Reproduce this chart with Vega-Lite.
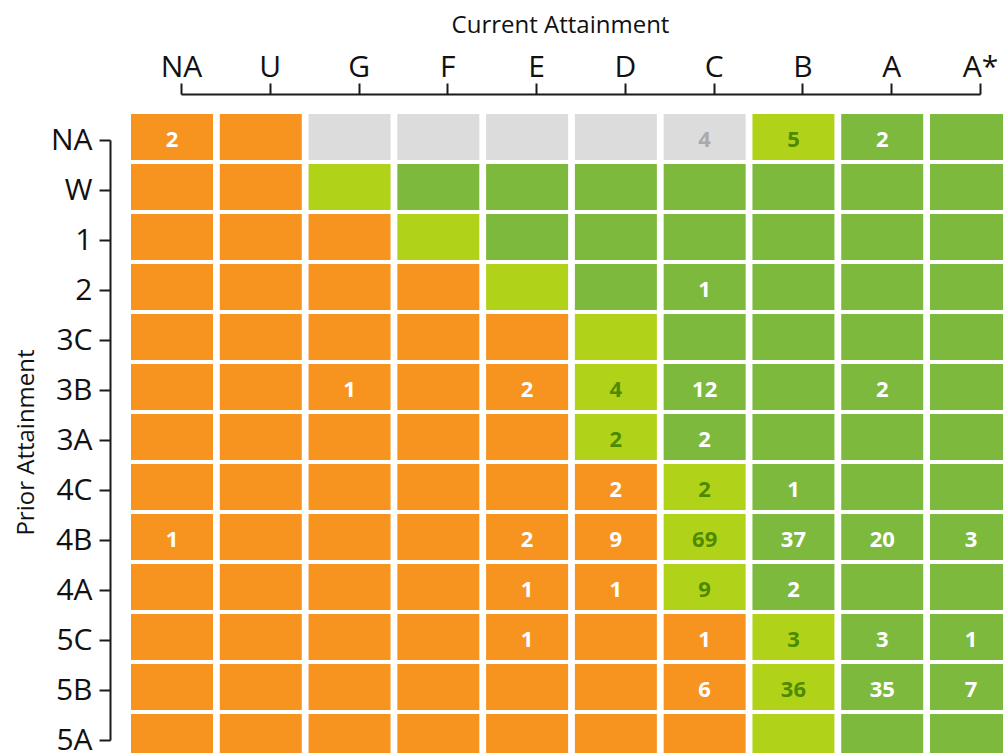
{
  "$schema": "https://vega.github.io/schema/vega-lite/v6.json",
  "autosize": "none",
  "padding": {"left": 181, "top": 140, "right": 23, "bottom": 13},
  "width": 799,
  "height": 600,
  "background": "white",
  "config": {"view": {"stroke": null}},
  "data": {"values": [
    {"r":"NA","c":"NA","b":"below","n":2},{"r":"NA","c":"U","b":"below"},{"r":"NA","c":"G","b":"none"},{"r":"NA","c":"F","b":"none"},{"r":"NA","c":"E","b":"none"},{"r":"NA","c":"D","b":"none"},{"r":"NA","c":"C","b":"none","n":4},{"r":"NA","c":"B","b":"on","n":5},{"r":"NA","c":"A","b":"above","n":2},{"r":"NA","c":"A*","b":"above"},
    {"r":"W","c":"NA","b":"below"},{"r":"W","c":"U","b":"below"},{"r":"W","c":"G","b":"on"},{"r":"W","c":"F","b":"above"},{"r":"W","c":"E","b":"above"},{"r":"W","c":"D","b":"above"},{"r":"W","c":"C","b":"above"},{"r":"W","c":"B","b":"above"},{"r":"W","c":"A","b":"above"},{"r":"W","c":"A*","b":"above"},
    {"r":"1","c":"NA","b":"below"},{"r":"1","c":"U","b":"below"},{"r":"1","c":"G","b":"below"},{"r":"1","c":"F","b":"on"},{"r":"1","c":"E","b":"above"},{"r":"1","c":"D","b":"above"},{"r":"1","c":"C","b":"above"},{"r":"1","c":"B","b":"above"},{"r":"1","c":"A","b":"above"},{"r":"1","c":"A*","b":"above"},
    {"r":"2","c":"NA","b":"below"},{"r":"2","c":"U","b":"below"},{"r":"2","c":"G","b":"below"},{"r":"2","c":"F","b":"below"},{"r":"2","c":"E","b":"on"},{"r":"2","c":"D","b":"above"},{"r":"2","c":"C","b":"above","n":1},{"r":"2","c":"B","b":"above"},{"r":"2","c":"A","b":"above"},{"r":"2","c":"A*","b":"above"},
    {"r":"3C","c":"NA","b":"below"},{"r":"3C","c":"U","b":"below"},{"r":"3C","c":"G","b":"below"},{"r":"3C","c":"F","b":"below"},{"r":"3C","c":"E","b":"below"},{"r":"3C","c":"D","b":"on"},{"r":"3C","c":"C","b":"above"},{"r":"3C","c":"B","b":"above"},{"r":"3C","c":"A","b":"above"},{"r":"3C","c":"A*","b":"above"},
    {"r":"3B","c":"NA","b":"below"},{"r":"3B","c":"U","b":"below"},{"r":"3B","c":"G","b":"below","n":1},{"r":"3B","c":"F","b":"below"},{"r":"3B","c":"E","b":"below","n":2},{"r":"3B","c":"D","b":"on","n":4},{"r":"3B","c":"C","b":"above","n":12},{"r":"3B","c":"B","b":"above"},{"r":"3B","c":"A","b":"above","n":2},{"r":"3B","c":"A*","b":"above"},
    {"r":"3A","c":"NA","b":"below"},{"r":"3A","c":"U","b":"below"},{"r":"3A","c":"G","b":"below"},{"r":"3A","c":"F","b":"below"},{"r":"3A","c":"E","b":"below"},{"r":"3A","c":"D","b":"on","n":2},{"r":"3A","c":"C","b":"above","n":2},{"r":"3A","c":"B","b":"above"},{"r":"3A","c":"A","b":"above"},{"r":"3A","c":"A*","b":"above"},
    {"r":"4C","c":"NA","b":"below"},{"r":"4C","c":"U","b":"below"},{"r":"4C","c":"G","b":"below"},{"r":"4C","c":"F","b":"below"},{"r":"4C","c":"E","b":"below"},{"r":"4C","c":"D","b":"below","n":2},{"r":"4C","c":"C","b":"on","n":2},{"r":"4C","c":"B","b":"above","n":1},{"r":"4C","c":"A","b":"above"},{"r":"4C","c":"A*","b":"above"},
    {"r":"4B","c":"NA","b":"below","n":1},{"r":"4B","c":"U","b":"below"},{"r":"4B","c":"G","b":"below"},{"r":"4B","c":"F","b":"below"},{"r":"4B","c":"E","b":"below","n":2},{"r":"4B","c":"D","b":"below","n":9},{"r":"4B","c":"C","b":"on","n":69},{"r":"4B","c":"B","b":"above","n":37},{"r":"4B","c":"A","b":"above","n":20},{"r":"4B","c":"A*","b":"above","n":3},
    {"r":"4A","c":"NA","b":"below"},{"r":"4A","c":"U","b":"below"},{"r":"4A","c":"G","b":"below"},{"r":"4A","c":"F","b":"below"},{"r":"4A","c":"E","b":"below","n":1},{"r":"4A","c":"D","b":"below","n":1},{"r":"4A","c":"C","b":"on","n":9},{"r":"4A","c":"B","b":"above","n":2},{"r":"4A","c":"A","b":"above"},{"r":"4A","c":"A*","b":"above"},
    {"r":"5C","c":"NA","b":"below"},{"r":"5C","c":"U","b":"below"},{"r":"5C","c":"G","b":"below"},{"r":"5C","c":"F","b":"below"},{"r":"5C","c":"E","b":"below","n":1},{"r":"5C","c":"D","b":"below"},{"r":"5C","c":"C","b":"below","n":1},{"r":"5C","c":"B","b":"on","n":3},{"r":"5C","c":"A","b":"above","n":3},{"r":"5C","c":"A*","b":"above","n":1},
    {"r":"5B","c":"NA","b":"below"},{"r":"5B","c":"U","b":"below"},{"r":"5B","c":"G","b":"below"},{"r":"5B","c":"F","b":"below"},{"r":"5B","c":"E","b":"below"},{"r":"5B","c":"D","b":"below"},{"r":"5B","c":"C","b":"below","n":6},{"r":"5B","c":"B","b":"on","n":36},{"r":"5B","c":"A","b":"above","n":35},{"r":"5B","c":"A*","b":"above","n":7},
    {"r":"5A","c":"NA","b":"below"},{"r":"5A","c":"U","b":"below"},{"r":"5A","c":"G","b":"below"},{"r":"5A","c":"F","b":"below"},{"r":"5A","c":"E","b":"below"},{"r":"5A","c":"D","b":"below"},{"r":"5A","c":"C","b":"below"},{"r":"5A","c":"B","b":"on"},{"r":"5A","c":"A","b":"above"},{"r":"5A","c":"A*","b":"above"}
  ]},
  "encoding": {
    "x": {
      "field": "c", "type": "nominal",
      "sort": ["NA","U","G","F","E","D","C","B","A","A*"],
      "scale": {"type": "point", "padding": 0},
      "axis": {
        "orient": "top", "title": "Current Attainment", "offset": 46,
        "labelAngle": 0, "labelFont": "Open Sans", "labelFontSize": 30, "labelColor": "#111",
        "labelBaseline": "alphabetic", "labelPadding": 7,
        "tickSize": 11, "tickWidth": 2, "tickColor": "#1a1a1a",
        "domainWidth": 2, "domainColor": "#1a1a1a", "grid": false,
        "titleFont": "Open Sans", "titleFontSize": 24, "titleFontWeight": "normal", "titleColor": "#111",
        "titleX": 379, "titleY": -62, "titleAlign": "center", "titleBaseline": "alphabetic"
      }
    },
    "y": {
      "field": "r", "type": "nominal",
      "sort": ["NA","W","1","2","3C","3B","3A","4C","4B","4A","5C","5B","5A"],
      "scale": {"type": "point", "padding": 0},
      "axis": {
        "orient": "left", "title": "Prior Attainment", "offset": 71,
        "labelFont": "Open Sans", "labelFontSize": 30, "labelColor": "#111", "labelPadding": 7,
        "tickSize": 11, "tickWidth": 2, "tickColor": "#1a1a1a",
        "domainWidth": 2, "domainColor": "#1a1a1a", "grid": false,
        "titleFont": "Open Sans", "titleFontSize": 24, "titleFontWeight": "normal", "titleColor": "#111",
        "titleAngle": -90, "titleX": -77, "titleY": 302, "titleAlign": "center", "titleBaseline": "alphabetic"
      }
    }
  },
  "layer": [
    {
      "mark": {"type": "rect", "width": 82, "height": 46, "xOffset": -9, "yOffset": -3},
      "encoding": {
        "color": {
          "field": "b", "type": "nominal", "legend": null,
          "scale": {"domain": ["below","on","above","none"], "range": ["#F7941F","#B0D31A","#7DB93C","#DCDCDC"]}
        }
      }
    },
    {
      "transform": [{"filter": "isValid(datum.n)"}],
      "mark": {"type": "text", "font": "Noto Sans", "fontWeight": "bold", "fontSize": 22, "xOffset": -9, "yOffset": 0, "baseline": "middle", "align": "center"},
      "encoding": {
        "text": {"field": "n", "type": "quantitative"},
        "color": {
          "field": "b", "type": "nominal", "legend": null,
          "scale": {"domain": ["below","on","above","none"], "range": ["#FFFFFF","#4E8A00","#FFFFFF","#AAAAAA"]}
        }
      }
    }
  ],
  "resolve": {"scale": {"color": "independent"}}
}
